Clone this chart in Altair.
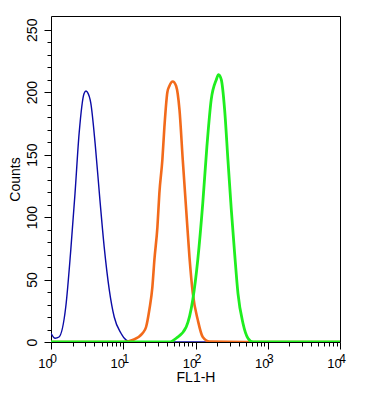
import altair as alt
import pandas as pd

# FL1-H values and counts
blue_x = [1, 1.14, 1.29, 1.6, 1.88, 2.15, 2.45, 2.87, 3.05, 3.19, 3.56, 4.08, 4.75, 5.45, 6.4, 7.5, 9.3, 11, 13, 100, 10000]
blue_y = [7, 3, 4, 28, 74, 119, 167, 199, 201, 200, 191, 159, 114, 76, 42, 20, 7, 1.5, 0, 0, 0]

orange_x = [1, 10, 13.5, 18.5, 20.7, 23, 25.3, 27, 29.7, 31.6, 34.8, 37.1, 40.8, 43.5, 48.4, 53.9, 60, 66.6, 74.3, 82.5, 91.8, 107.6, 126, 156, 500, 10000]
orange_y = [0, 0, 1.6, 7, 12, 26, 44, 66, 92, 119, 146, 172, 200, 205, 208.6, 205, 186, 146, 106, 68, 39, 17.6, 4, 0.3, 0, 0]

green_x = [1, 43.5, 54, 74.3, 91.8, 107.6, 126, 143.6, 165, 194, 208.6, 227.5, 253, 281, 313, 348, 387, 454, 532, 625, 10000]
green_y = [0, 0, 3, 12, 34, 66, 111, 156, 194, 210, 214, 210, 186, 146, 106, 71, 39, 15, 3, 0, 0]

colors = ["#0b0ba6", "#f26a1b", "#1fee1f"]
widths = [1.4, 2.6, 2.8]

decades = [1, 10, 100, 1000, 10000]
x_ticks = [m * 10 ** e for e in range(4) for m in range(1, 10)] + [10000]
y_ticks = list(range(0, 251, 10))

def frame(xs, ys, name):
    return pd.DataFrame({"x": xs, "y": ys, "s": name})

data = [frame(blue_x, blue_y, "blue"), frame(orange_x, orange_y, "orange"), frame(green_x, green_y, "green")]

x_scale = alt.Scale(type="log", domain=[1, 10000], nice=False)
y_scale = alt.Scale(domain=[0, 261], nice=False, zero=True)

FONT = "Liberation Sans"

x_axis_main = alt.Axis(
    title="FL1-H",
    values=x_ticks,
    labelExpr="indexof([1,10,100,1000,10000], datum.value) >= 0 ? '10' : ''",
    tickSize={"condition": {"test": "indexof([1,10,100,1000,10000], datum.value) >= 0", "value": 7}, "value": 4},
    grid=False,
    labelFontSize=13,
    labelBaseline="alphabetic",
    labelPadding=18,
    labelOffset=-6,
    titleFontSize=14,
    titleFontWeight="normal",
    titlePadding=0,
    labelFlush=False,
    labelOverlap=False,
)
x_axis_top = alt.Axis(
    orient="top",
    title=None,
    values=decades,
    ticks=False,
    tickSize=0,
    labelPadding=-346,
    labelOffset=2,
    labelExpr="'' + round(log(datum.value) / LN10)",
    labelFontSize=12,
    labelBaseline="alphabetic",
    grid=False,
    labelFlush=False,
    labelOverlap=False,
)
y_axis_main = alt.Axis(
    title="Counts",
    values=y_ticks,
    labelExpr="datum.value % 50 == 0 ? datum.label : ''",
    tickSize={"condition": {"test": "datum.value % 50 == 0", "value": 7}, "value": 4},
    grid=False,
    labelAngle=270,
    labelAlign="center",
    labelBaseline="bottom",
    labelFontSize=14,
    labelPadding=5,
    titleFontSize=14,
    titleFontWeight="normal",
    titlePadding=3,
    labelOverlap=False,
    labelFlush=False,
)
y_axis_right = alt.Axis(
    orient="right", title=None, ticks=False, labels=False, grid=False
)

axes = [(x_axis_main, y_axis_main), (None, None), (x_axis_top, y_axis_right)]

layers = []
for df, col, w, (ax, ay) in zip(data, colors, widths, axes):
    layers.append(
        alt.Chart(df).mark_line(color=col, strokeWidth=w, interpolate="monotone", clip=True).encode(
            x=alt.X("x:Q", scale=x_scale, axis=ax),
            y=alt.Y("y:Q", scale=y_scale, axis=ay),
            order="x:Q",
        )
    )

chart = alt.layer(*layers).resolve_axis(x="independent", y="independent").properties(
    width=289, height=326, background="white",
    padding={"left": 0, "top": 8, "right": 5, "bottom": 5},
).configure_view(
    stroke=None
).configure_axis(
    domainColor="black", tickColor="black", labelColor="black", titleColor="black",
    labelFont=FONT, titleFont=FONT, domainWidth=1, tickWidth=1
)

chart.save("out.html", embed_options={"renderer": "svg", "actions": False})
